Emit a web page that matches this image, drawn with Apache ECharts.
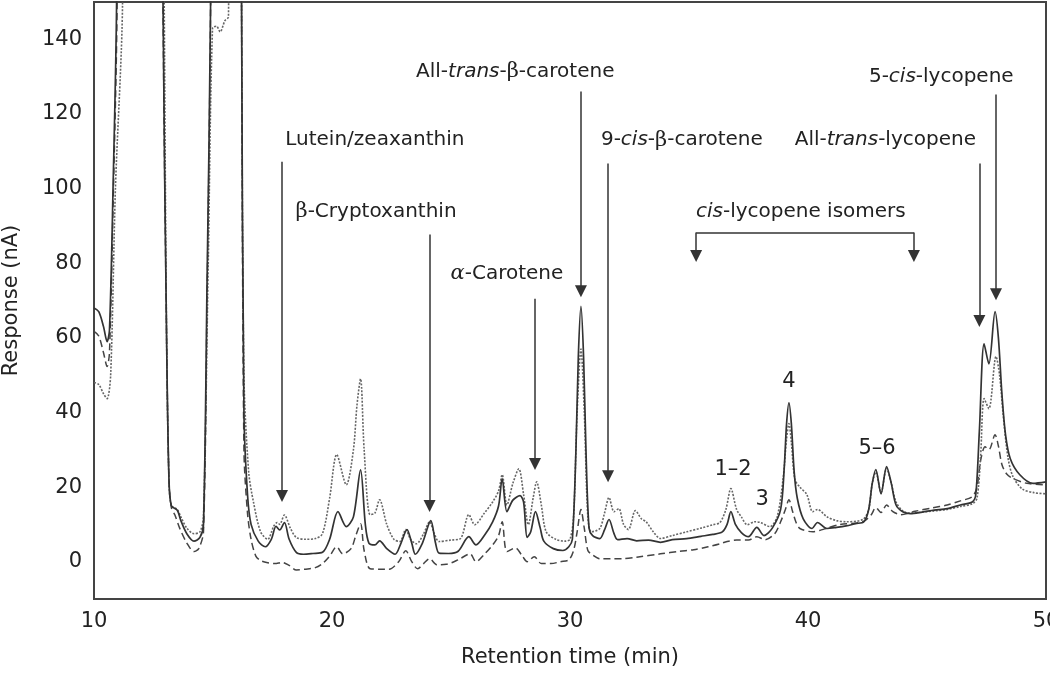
<!DOCTYPE html>
<html>
<head>
<meta charset="utf-8">
<title>Carotenoid HPLC chromatogram</title>
<script src="https://cdn.jsdelivr.net/npm/echarts@6/dist/echarts.min.js"></script>
<style>
    html, body { margin: 0; padding: 0; background: #fff; }
    #chart { width: 1050px; height: 673px; }
</style>
</head>
<body>
<div id="chart"></div>
<script>
// three chromatograms as [retention time (min), response (nA)]
// values above 150 run off the top of the plot (clipped)
const traceSolid = [
    [10.0, 68], [10.2, 67], [10.4, 63], [10.55, 59], [10.65, 62], [10.8, 100], [10.95, 150], [11.0, 250],
    [12.85, 250], [12.9, 150], [13.05, 60], [13.15, 22], [13.25, 15], [13.5, 13.8], [13.65, 11], [13.9, 7.5],
    [14.2, 5.5], [14.45, 6.5], [14.6, 10], [14.75, 75], [14.9, 150], [14.95, 250],
    [16.15, 250], [16.2, 150], [16.3, 40], [16.45, 18], [16.6, 10], [16.9, 5.5], [17.2, 4], [17.45, 6],
    [17.65, 9.5], [17.8, 8.5], [18.0, 10.5], [18.2, 6], [18.5, 2.5], [18.8, 2], [19.2, 2.2], [19.6, 2.5],
    [19.9, 6], [20.25, 13.4], [20.6, 9.4], [20.9, 12], [21.2, 24.6], [21.4, 10], [21.55, 5], [21.8, 4.5],
    [22.0, 5.6], [22.3, 3.5], [22.65, 2], [22.9, 5], [23.15, 8.6], [23.35, 5], [23.5, 2], [23.8, 5],
    [24.15, 11], [24.35, 5], [24.5, 2.3], [24.9, 2.2], [25.3, 2.8], [25.75, 6.7], [26.05, 4.5], [26.4, 7],
    [26.75, 10.7], [27.0, 15], [27.15, 22.3], [27.35, 13.4], [27.6, 16.5], [27.9, 17.7], [28.05, 16],
    [28.2, 6.5], [28.35, 8], [28.55, 13.4], [28.75, 9], [28.9, 5.5], [29.3, 3.5], [29.7, 3], [29.95, 4],
    [30.1, 6], [30.25, 30], [30.35, 55], [30.46, 68.4], [30.57, 55], [30.67, 30], [30.8, 9], [30.95, 7],
    [31.25, 6.2], [31.45, 8.5], [31.64, 11.3], [31.85, 7.5], [32.0, 5.9], [32.4, 6.2], [32.8, 5.6],
    [33.3, 5.8], [33.8, 5.2], [34.3, 5.9], [34.9, 6.2], [35.5, 6.8], [36.0, 7.3], [36.4, 8], [36.6, 10],
    [36.76, 13.4], [36.95, 10], [37.2, 7.8], [37.5, 6.7], [37.85, 9.2], [38.15, 7], [38.5, 9], [38.85, 14],
    [39.0, 25], [39.1, 37], [39.2, 42.6], [39.3, 37], [39.42, 24], [39.55, 17], [39.8, 11.5], [40.17, 8.9],
    [40.4, 10.5], [40.8, 8.9], [41.2, 9.2], [41.6, 9.6], [42.0, 10.2], [42.35, 10.7], [42.55, 14], [42.7, 21],
    [42.85, 24.7], [43.07, 18.2], [43.3, 25.5], [43.5, 21], [43.7, 15.2], [44.0, 13.3], [44.3, 12.9],
    [44.8, 13.3], [45.3, 13.8], [45.85, 14.2], [46.4, 15.2], [46.9, 16], [47.05, 18], [47.2, 35],
    [47.4, 58.4], [47.6, 53], [47.86, 67], [48.0, 60], [48.15, 44.8], [48.3, 34], [48.5, 27.6],
    [48.9, 23.3], [49.45, 21], [50.0, 21.4]
];

const traceDotted = [
    [10.0, 48], [10.2, 47.5], [10.4, 45], [10.55, 43.7], [10.7, 50], [10.9, 100], [11.2, 150], [11.25, 250],
    [12.85, 250], [12.95, 150], [13.05, 60], [13.15, 22], [13.25, 15], [13.5, 14], [13.65, 12], [13.9, 9],
    [14.2, 7.5], [14.45, 8], [14.6, 12], [14.8, 80], [14.98, 143], [15.15, 143.5], [15.3, 142], [15.5, 145],
    [15.65, 146], [15.72, 250],
    [16.15, 250], [16.2, 150], [16.3, 50], [16.5, 24], [16.7, 16], [17.0, 8], [17.3, 6], [17.55, 9.5],
    [17.7, 10.5], [17.8, 10], [18.0, 12.5], [18.25, 9], [18.5, 6.5], [18.9, 6], [19.3, 6.2], [19.6, 7.5],
    [19.9, 17], [20.2, 28.7], [20.6, 20.6], [20.9, 30], [21.05, 42], [21.2, 49], [21.35, 30], [21.6, 12.6],
    [21.8, 13], [22.0, 16.6], [22.3, 10], [22.6, 6], [22.85, 5.4], [23.1, 8.6], [23.3, 6], [23.55, 4.8],
    [23.85, 7.5], [24.1, 10.7], [24.3, 7.5], [24.5, 5.4], [25.0, 5.8], [25.4, 6.2], [25.75, 12.6],
    [26.0, 9.9], [26.4, 13], [26.75, 16], [27.0, 19], [27.15, 23.3], [27.35, 15.2], [27.6, 21],
    [27.85, 24.9], [28.05, 18], [28.25, 9.9], [28.45, 17], [28.6, 21.4], [28.8, 15], [29.0, 8], [29.4, 6],
    [29.8, 5.5], [30.0, 6], [30.15, 12], [30.3, 40], [30.46, 57], [30.6, 40], [30.75, 12], [30.9, 8],
    [31.25, 8.9], [31.45, 13], [31.64, 17.2], [31.85, 13.4], [32.05, 14.2], [32.25, 10], [32.45, 8.6],
    [32.75, 13.7], [33.0, 11.5], [33.2, 10.7], [33.5, 8], [33.8, 6.2], [34.3, 7], [34.9, 8], [35.5, 9],
    [36.0, 9.9], [36.3, 10.5], [36.55, 14], [36.76, 19.6], [37.0, 14], [37.2, 12], [37.45, 9.9],
    [37.75, 10.7], [38.0, 10.5], [38.4, 9.4], [38.7, 12], [38.95, 22], [39.1, 33], [39.2, 37], [39.3, 32],
    [39.45, 22], [39.66, 20], [39.95, 18], [40.2, 13.4], [40.4, 14], [40.8, 12], [41.2, 11], [41.6, 10.7],
    [42.3, 11.3], [42.55, 14], [42.7, 21], [42.85, 24], [43.07, 18.5], [43.3, 25], [43.5, 21], [43.7, 16],
    [44.0, 13.5], [44.3, 13], [44.8, 13.3], [45.3, 13.6], [45.85, 14], [46.4, 14.8], [46.9, 15.5],
    [47.1, 17], [47.25, 28], [47.4, 43.7], [47.6, 41], [47.9, 55], [48.05, 50], [48.2, 39.4], [48.4, 28],
    [48.6, 23], [49.0, 19.5], [49.5, 18.5], [50.0, 18.2]
];

const traceDashed = [
    [10.0, 61.7], [10.2, 60.5], [10.4, 56], [10.55, 52.3], [10.65, 56], [10.8, 95], [10.97, 150], [11.0, 250],
    [12.85, 250], [12.9, 150], [13.05, 60], [13.15, 22], [13.25, 14.5], [13.4, 12.5], [13.6, 9], [13.9, 5],
    [14.2, 2.7], [14.4, 3.5], [14.6, 8], [14.75, 70], [14.9, 150], [14.95, 250],
    [16.15, 250], [16.2, 150], [16.3, 30], [16.45, 13], [16.6, 6], [16.8, 1.5], [17.0, 0.3], [17.3, -0.3],
    [17.6, -0.5], [17.9, -0.2], [18.2, -1], [18.5, -2.2], [18.9, -2], [19.3, -1.6], [19.6, -0.5],
    [19.9, 1.5], [20.2, 4], [20.45, 2.1], [20.8, 3.5], [21.0, 7], [21.2, 10.2], [21.35, 3], [21.6, -1.9],
    [22.0, -2], [22.4, -2], [22.8, 0], [23.1, 2.9], [23.35, 0], [23.6, -1.9], [23.85, -0.5], [24.1, 0.8],
    [24.4, -0.8], [24.8, -0.7], [25.3, 0.5], [25.8, 2.1], [26.05, 0], [26.4, 2], [26.75, 4.5], [27.0, 7],
    [27.15, 10.7], [27.35, 2.7], [27.7, 3.7], [28.0, 1.5], [28.2, 0], [28.5, 1.3], [28.8, -0.5],
    [29.2, -0.5], [29.6, 0], [29.95, 0.5], [30.15, 3], [30.3, 8], [30.46, 14], [30.6, 9], [30.75, 3],
    [30.95, 1.8], [31.25, 0.8], [31.7, 0.8], [32.2, 0.8], [32.8, 1.2], [33.8, 2.1], [34.6, 2.8], [35.2, 3.2],
    [35.8, 4], [36.3, 4.8], [36.6, 5.4], [37.0, 5.8], [37.5, 5.8], [37.85, 6.7], [38.2, 5.9], [38.6, 7.5],
    [38.85, 10.7], [39.05, 14], [39.2, 16.6], [39.35, 13.5], [39.5, 10.5], [39.66, 8.9], [40.2, 8],
    [40.7, 8.8], [41.3, 9.9], [42.3, 10.7], [42.65, 12.5], [42.85, 14.5], [43.07, 13.2], [43.3, 15.2],
    [43.55, 13.5], [43.9, 12.6], [44.5, 13.5], [45.2, 14.4], [45.85, 15.2], [46.4, 16.3], [46.9, 17.4],
    [47.1, 20], [47.25, 27], [47.44, 30.8], [47.6, 30], [47.86, 34], [48.0, 31], [48.15, 26], [48.35, 23.5],
    [48.6, 22.3], [49.2, 21], [50.0, 20.6]
];

// peak names (rich text markup) and where their text is centred
const peakNames = [
    'Lutein/zeaxanthin',
    '{g|β}-Cryptoxanthin',
    '{ga|α}-Carotene',
    'All-{i|trans}-{g|β}-carotene',
    '9-{i|cis}-{g|β}-carotene',
    '{i|cis}-lycopene isomers',
    'All-{i|trans}-lycopene',
    '5-{i|cis}-lycopene'
];
const nameX = [21.8, 21.85, 27.35, 27.7, 34.7, 39.7, 43.25, 45.6];
const nameY = [113, 93.8, 77.2, 131.4, 113, 93.8, 113, 130];

// arrows pointing at the peaks: x, top of the stem, tip
const arrowX = [17.9, 24.1, 28.53, 30.46, 31.6, 47.2, 47.9];
const arrowTop = [107.2, 87.7, 70.5, 126, 106.7, 106.7, 125.2];
const arrowTip = [16.1, 13.4, 24.7, 71, 21.4, 63, 70.2];

// bracket over the cis-lycopene isomers
const bracketX = [35.3, 44.45];
const bracketTop = 88.2;
const bracketTip = 80.4;

// numbered cis-lycopene isomer peaks
const isomerNames = ['1–2', '3', '4', '5–6'];
const isomerX = [36.85, 38.07, 39.2, 42.9];
const isomerY = [24.7, 16.6, 48.3, 30.3];

const font = 'DejaVu Sans';
const ink = '#222';
const headLift = 1.5;

const chart = echarts.init(document.getElementById('chart'));

const arrowLines = arrowX.map((x, i) => [
    { coord: [x, arrowTop[i]], symbol: 'none' },
    { coord: [x, arrowTip[i] + headLift], symbol: 'triangle' }
]);
bracketX.forEach(x => {
    arrowLines.push([
        { coord: [x, bracketTop], symbol: 'none' },
        { coord: [x, bracketTip + headLift], symbol: 'triangle' }
    ]);
});
arrowLines.push([
    { coord: [bracketX[0], bracketTop], symbol: 'none' },
    { coord: [bracketX[1], bracketTop], symbol: 'none' }
]);

const textPoints = peakNames.map((name, i) => ({
    name: name,
    coord: [nameX[i], nameY[i]]
})).concat(isomerNames.map((name, i) => ({
    name: name,
    coord: [isomerX[i], isomerY[i]],
    label: { fontSize: 21 }
})));

const option = {
    animation: false,
    textStyle: { fontFamily: font },
    grid: {
        left: 94,
        right: 4,
        top: 2,
        bottom: 74,
        show: true,
        borderColor: '#444',
        borderWidth: 2,
        containLabel: false,
        outerBoundsMode: 'none'
    },
    xAxis: {
        type: 'value',
        min: 10,
        max: 50,
        interval: 10,
        name: 'Retention time (min)',
        nameLocation: 'middle',
        nameGap: 48,
        nameTextStyle: { fontSize: 21, color: ink, fontFamily: font },
        axisLine: { show: true, onZero: false, lineStyle: { color: '#444', width: 2 } },
        axisTick: { show: false },
        splitLine: { show: false },
        axisLabel: { fontSize: 21, color: ink, margin: 12, fontFamily: font }
    },
    yAxis: {
        type: 'value',
        min: -10,
        max: 150,
        splitNumber: 8,
        name: 'Response (nA)',
        nameLocation: 'middle',
        nameGap: 72,
        nameTextStyle: { fontSize: 21, color: ink, fontFamily: font },
        axisLine: { show: true, onZero: false, lineStyle: { color: '#444', width: 2 } },
        axisTick: { show: false },
        splitLine: { show: false },
        axisLabel: {
            fontSize: 21,
            color: ink,
            margin: 12,
            fontFamily: font,
            formatter: v => (v % 20 === 0 ? String(v) : '')
        }
    },
    series: [
        {
            type: 'line',
            data: traceDashed,
            showSymbol: false,
            smooth: 0.3,
            lineStyle: { color: '#444', width: 1.5, type: [7, 4] },
            z: 2
        },
        {
            type: 'line',
            data: traceDotted,
            showSymbol: false,
            smooth: 0.3,
            lineStyle: { color: '#666', width: 1.6, type: [2, 1.5] },
            z: 2
        },
        {
            type: 'line',
            data: traceSolid,
            showSymbol: false,
            smooth: 0.3,
            lineStyle: { color: '#333', width: 1.7 },
            z: 3,
            markLine: {
                silent: true,
                symbolSize: 12,
                label: { show: false },
                lineStyle: { color: '#333', width: 1.5, type: 'solid' },
                itemStyle: { color: '#333' },
                emphasis: { disabled: true },
                data: arrowLines
            },
            markPoint: {
                silent: true,
                symbol: 'circle',
                symbolSize: 1,
                itemStyle: { color: 'rgba(0,0,0,0)' },
                label: {
                    show: true,
                    position: 'inside',
                    fontSize: 20,
                    color: ink,
                    fontFamily: font,
                    formatter: p => p.name,
                    rich: {
                        i: { fontSize: 20, color: ink, fontFamily: font, fontStyle: 'italic' },
                        g: { fontSize: 21, color: ink, fontFamily: 'DejaVu Serif' },
                        ga: { fontSize: 21, color: ink, fontFamily: 'DejaVu Serif', fontStyle: 'italic' }
                    }
                },
                emphasis: { disabled: true },
                data: textPoints
            }
        }
    ]
};

chart.setOption(option);
window.addEventListener('resize', () => {
    chart.resize();
});
</script>
</body>
</html>
